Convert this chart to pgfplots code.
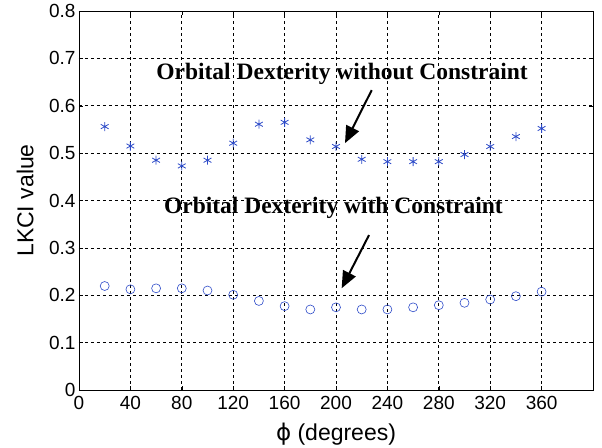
\documentclass[border=0pt]{standalone}
\usepackage{fontspec}
\setmainfont{Liberation Sans}
\newfontfamily\timesbf{Liberation Serif}
\newfontfamily\dejavu{DejaVu Sans}
\usepackage{pgfplots}
\pgfplotsset{compat=1.18}
\usetikzlibrary{arrows.meta,calc}
\definecolor{mkblue}{RGB}{45,75,200}

\begin{document}
\begin{tikzpicture}
  \begin{axis}[
      scale only axis,
      width=514pt, height=379pt,
      xmin=0, xmax=400, ymin=0, ymax=0.8,
      xtick={0,40,...,360},
      ytick={0,0.1,0.2,0.3,0.4,0.5,0.6,0.7,0.8},
      yticklabels={0,0.1,0.2,0.3,0.4,0.5,0.6,0.7,0.8},
      /pgf/number format/assume math mode=true,
      ticklabel style={font=\fontsize{19}{22}\selectfont},
      xticklabel style={yshift=-3pt},
      tick align=inside, major tick length=4pt,
      tick style={black, thin},
      grid=major,
      grid style={black, dash pattern=on 3pt off 3pt, line width=0.7pt},
      axis line style={black, line width=0.8pt},
      xlabel={{\dejavu ϕ} (degrees)},
      ylabel={LKCI value},
      label style={font=\fontsize{23}{27}\selectfont},
      xlabel style={at={(axis description cs:0.5,-0.132)}, anchor=base},
      ylabel style={at={(axis description cs:-0.105,0.5)}, anchor=center},
    ]
    % without constraint
    \addplot[only marks, mark=asterisk, mark size=4.5pt, mkblue, thick] coordinates {
      (20,0.556) (40,0.515) (60,0.485) (80,0.473) (100,0.485) (120,0.521)
      (140,0.561) (160,0.565) (180,0.528) (200,0.514) (220,0.487) (240,0.482)
      (260,0.482) (280,0.482) (300,0.497) (320,0.514) (340,0.535) (360,0.552)
    };
    % with constraint
    \addplot[only marks, mark=o, mark size=4.5pt, mkblue, semithick] coordinates {
      (20,0.2195) (40,0.2125) (60,0.2146) (80,0.2146) (100,0.210) (120,0.201)
      (140,0.188) (160,0.177) (180,0.170) (200,0.1745) (220,0.170) (240,0.170)
      (260,0.1745) (280,0.179) (300,0.184) (320,0.191) (340,0.198) (360,0.2075)
    };
    \node[font=\timesbf\bfseries\fontsize{23.5}{27}\selectfont] at (axis cs:204.7,0.667) {Orbital Dexterity without Constraint};
    \node[font=\timesbf\bfseries\fontsize{23.5}{27}\selectfont] at (axis cs:198,0.384) {Orbital Dexterity with Constraint};
    \draw[line width=2pt, -{Triangle[length=17pt,width=14pt]}] (axis cs:227.8,0.633) -- (axis cs:207,0.521);
    \draw[line width=2pt, -{Triangle[length=17pt,width=14pt]}] (axis cs:225.7,0.327) -- (axis cs:204.4,0.2147);
  \end{axis}
  \pgfresetboundingbox
  \useasboundingbox ($(current axis.south west)+(-79pt,-58pt)$) rectangle ($(current axis.north east)+(9pt,11pt)$);
\end{tikzpicture}
\end{document}
